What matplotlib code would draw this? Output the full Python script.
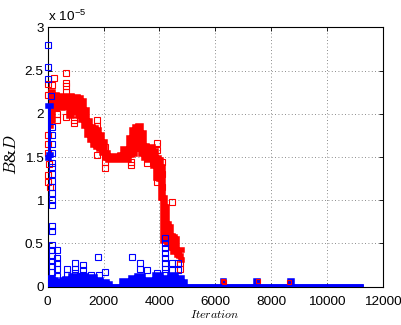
import matplotlib
matplotlib.use("Agg")
import matplotlib.pyplot as plt

plt.rcParams["font.family"] = "Liberation Sans"
plt.rcParams["mathtext.fontset"] = "cm"

# ── B&D values, in units of 1e-5 ─────────────────────────────────────────────
# red run: main band (upper / lower envelope per iteration block)
red_iter = [50, 150, 260, 370, 480, 585, 690, 800, 910, 1020,
            1120, 1230, 1340, 1450, 1550, 1660, 1770, 1880, 1985, 2090,
            2200, 2310, 2420, 2520, 2630, 2740, 2850, 2950, 3060, 3170,
            3280, 3390, 3490, 3600, 3710, 3820, 3920, 4030, 4100, 4170,
            4240, 4320, 4390, 4460, 4530, 4600, 4680, 4750, 4820]
red_top = [2.22, 2.25, 2.22, 2.21, 2.21, 2.21, 2.21, 2.20, 2.19, 2.19,
           2.18, 2.15, 2.04, 1.92, 1.85, 1.83, 1.81, 1.76, 1.67, 1.55,
           1.51, 1.51, 1.51, 1.51, 1.52, 1.59, 1.55, 1.72, 1.81, 1.85,
           1.86, 1.78, 1.63, 1.61, 1.62, 1.57, 1.49, 1.47, 1.38, 1.03,
           0.92, 0.72, 0.69, 0.59, 0.57, 0.55, 0.43, 0.43, 0.42]
red_bot = [1.86, 1.93, 2.05, 2.07, 2.07, 2.10, 2.08, 1.98, 2.05, 2.02,
           1.98, 1.93, 1.86, 1.75, 1.70, 1.64, 1.61, 1.59, 1.55, 1.49,
           1.47, 1.47, 1.47, 1.47, 1.47, 1.47, 1.47, 1.52, 1.53, 1.59,
           1.61, 1.54, 1.49, 1.47, 1.46, 1.40, 1.26, 1.24, 1.03, 0.53,
           0.53, 0.51, 0.49, 0.45, 0.40, 0.40, 0.37, 0.36, 0.31]

# red run: isolated iterations outside the band
red_out_iter = [660, 660, 660, 660, 230, 150, 0, 0, 0, 0, 0, 30,
                330, 330, 660, 940, 940, 1770, 1770, 1770, 10, 10, 80,
                2060, 2060, 2060, 2060, 2990, 2990, 3570,
                3920, 3920, 3920, 3920, 3920, 4100, 4100, 4100,
                4460, 4750, 4750]
red_out_val = [2.47, 2.36, 2.32, 2.25, 2.41, 2.33, 2.35, 2.22, 1.75, 1.65, 1.55, 1.42,
               2.00, 1.93, 1.96, 1.93, 1.89, 1.93, 1.86, 1.52, 1.29, 1.21, 1.15,
               1.61, 1.52, 1.44, 1.37, 1.44, 1.41, 1.43,
               1.66, 1.58, 1.35, 1.27, 1.21, 1.44, 1.30, 1.15,
               0.98, 0.28, 0.20]
red_tail_iter = [6280, 6330, 7520, 8660]
red_tail_val = [0.07, 0.05, 0.07, 0.05]

# blue run: dense start block
blue_head_iter = [0, 100]
blue_head_top = [2.09, 2.09]
blue_head_bot = [1.49, 1.52]

# blue run: floor band (upper envelope, lower envelope is zero)
blue_iter = [0, 120, 230, 330, 440, 550, 660, 770, 870, 980,
             1090, 1200, 1300, 1410, 1520, 1630, 1730, 1840, 1950, 2060,
             2170, 2270, 2380, 2490, 2600, 2700, 2810, 2920, 3030, 3130,
             3240, 3350, 3460, 3570, 3670, 3780, 3890, 4000, 4100, 4210,
             4320, 4430, 4530, 4640, 4750, 4860, 4970,
             6250, 6290, 6330, 7460, 7500, 7540, 8680, 8720, 8760, 11220]
blue_top = [0.10, 0.10, 0.08, 0.06, 0.04, 0.08, 0.09, 0.05, 0.12, 0.12,
            0.05, 0.12, 0.12, 0.04, 0.11, 0.11, 0.08, 0.08, 0.04, 0.06,
            0.03, 0.00, 0.00, 0.00, 0.00, 0.07, 0.07, 0.02, 0.10, 0.10,
            0.12, 0.12, 0.02, 0.08, 0.08, 0.02, 0.13, 0.13, 0.05, 0.10,
            0.05, 0.14, 0.14, 0.10, 0.10, 0.06, 0.00,
            0.00, 0.07, 0.00, 0.00, 0.07, 0.00, 0.00, 0.07, 0.00, 0.00]

# blue run: isolated iterations
blue_pts_iter = [0, 0, 0, 100, 150, 150, 150, 150,
                 150, 150, 150, 150, 150, 150, 150, 150, 150, 150,
                 150, 150, 150, 150, 150, 150,
                 340, 340, 340, 340, 340,
                 690, 690, 980, 980, 980, 1270, 1270, 1270, 1550,
                 1810, 1840, 2060, 3030, 3310, 3310, 3560, 3920,
                 4210, 4210, 4210, 4210, 4210, 4210, 4210, 4210,
                 4460, 4460, 4680, 4680]
blue_pts_val = [2.79, 2.54, 2.40, 2.21, 1.85, 1.75, 1.65, 1.55,
                1.43, 1.38, 1.30, 1.22, 1.15, 1.08, 1.00, 0.95, 0.70, 0.64,
                0.48, 0.42, 0.36, 0.30, 0.24, 0.17,
                0.42, 0.33, 0.27, 0.20, 0.12,
                0.21, 0.13, 0.27, 0.21, 0.16, 0.25, 0.19, 0.13, 0.13,
                0.34, 0.13, 0.17, 0.34, 0.27, 0.21, 0.19, 0.16,
                0.56, 0.50, 0.45, 0.39, 0.33, 0.27, 0.21, 0.16,
                0.28, 0.19, 0.27, 0.19]

MS = 4.0     # square marker size (pt)
RED = "#ff0000"
BLUE = "#0000ff"


def band(ax, x, lo, hi, color, z, clip=True):
    # solid envelope of overlapping square markers
    ax.fill_between(x, lo, hi, step="mid", color=color, lw=0, zorder=z, clip_on=clip)
    for y in (lo, hi):
        ax.plot(x, y, drawstyle="steps-mid", color=color, lw=MS,
                solid_capstyle="projecting", solid_joinstyle="miter",
                zorder=z, clip_on=clip)


def squares(ax, x, y, color, z, ms=MS):
    ax.plot(x, y, "s", mfc="none", mec=color, ms=ms, mew=0.8,
            zorder=z, clip_on=False)


fig = plt.figure(figsize=(4.01, 3.25), dpi=100)
ax = fig.add_axes([0.119, 0.1178, 0.835, 0.7982])

band(ax, red_iter, red_bot, red_top, RED, 3)
squares(ax, red_out_iter, red_out_val, RED, 3.5)

band(ax, blue_iter, [0.0] * len(blue_iter), blue_top, BLUE, 4)
band(ax, blue_head_iter, blue_head_bot, blue_head_top, BLUE, 4, clip=False)
squares(ax, blue_pts_iter, blue_pts_val, BLUE, 4.5)
squares(ax, red_tail_iter, red_tail_val, RED, 5, ms=2.4)

ax.set_xlim(0, 12000)
ax.set_ylim(0, 3)
ax.set_xticks(range(0, 12001, 2000))
ax.set_yticks([0, 0.5, 1, 1.5, 2, 2.5, 3])
ax.set_yticklabels(["0", "0.5", "1", "1.5", "2", "2.5", "3"])
ax.tick_params(direction="in", length=3, width=0.6, top=True, right=True,
               labelsize=9.7, pad=3)
ax.tick_params(axis="x", pad=6.5)
ax.grid(True, linestyle=(0, (1, 3)), color="0.4", lw=0.6)
ax.set_axisbelow(True)
for s in ax.spines.values():
    s.set_linewidth(0.8)
    s.set_color("black")

ax.text(0.0, 1.012, r"x 10$^{\mathregular{-5}}$", transform=ax.transAxes,
        ha="left", va="bottom", fontsize=9.7)
ax.set_xlabel(r"$Iteration$", fontsize=8.5)
ax.xaxis.set_label_coords(0.5, -0.085)
ax.set_ylabel(r"$B$&$D$", fontsize=12, family="Liberation Serif")
ax.yaxis.set_label_coords(-0.083, 0.508)

fig.savefig("out.png", dpi=100)
